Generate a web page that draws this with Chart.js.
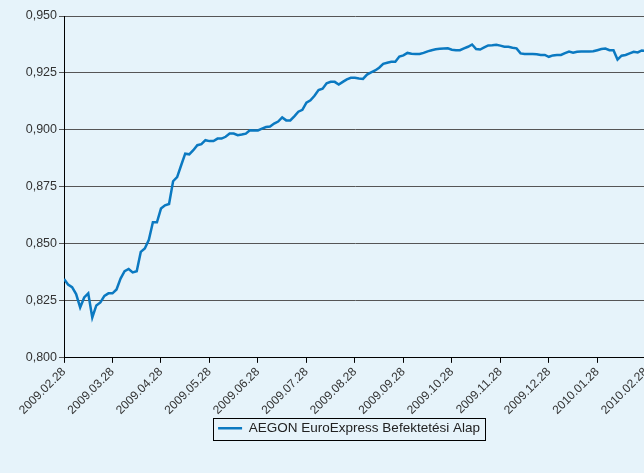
<!DOCTYPE html>
<html>
<head>
<meta charset="utf-8">
<script src="https://cdn.jsdelivr.net/npm/chart.js@4/dist/chart.umd.min.js"></script>
<style>
html, body { margin: 0; padding: 0; background: #e6f3fa; overflow: hidden; }
#wrap { position: relative; width: 658px; height: 473px; }
</style>
</head>
<body>
<div id="wrap"><canvas id="chart"></canvas></div>
<script>
// monthly tick labels on the x axis
var monthLabels = ['2009.02.28', '2009.03.28', '2009.04.28', '2009.05.28', '2009.06.28', '2009.07.28',
	'2009.08.28', '2009.09.28', '2009.10.28', '2009.11.28', '2009.12.28', '2010.01.28', '2010.02.28'];

var seriesName = 'AEGON EuroExpress Befektetési Alap';

// net asset value, sampled evenly across the year
var navValues = [
	0.8346, 0.8322, 0.8310, 0.8280, 0.8221, 0.8265, 0.8283, 0.8177, 0.8230, 0.8243,
	0.8272, 0.8283, 0.8283, 0.8300, 0.8348, 0.8380, 0.8390, 0.8375, 0.8380, 0.8465,
	0.8480, 0.8518, 0.8595, 0.8595, 0.8655, 0.8669, 0.8675, 0.8775, 0.8793, 0.8845,
	0.8896, 0.8893, 0.8911, 0.8933, 0.8938, 0.8955, 0.8951, 0.8951, 0.8962, 0.8962,
	0.8970, 0.8984, 0.8984, 0.8977, 0.8980, 0.8984, 0.8999, 0.8998, 0.8998, 0.9006,
	0.9013, 0.9015, 0.9028, 0.9037, 0.9055, 0.9042, 0.9042, 0.9060, 0.9080, 0.9088,
	0.9120, 0.9130, 0.9150, 0.9175, 0.9181, 0.9205, 0.9211, 0.9211, 0.9199, 0.9211,
	0.9222, 0.9229, 0.9229, 0.9226, 0.9224, 0.9243, 0.9253, 0.9261, 0.9273, 0.9290,
	0.9295, 0.9299, 0.9299, 0.9322, 0.9327, 0.9338, 0.9334, 0.9333, 0.9333, 0.9338,
	0.9345, 0.9350, 0.9354, 0.9356, 0.9357, 0.9358, 0.9352, 0.9350, 0.9350, 0.9358,
	0.9365, 0.9375, 0.9355, 0.9353, 0.9362, 0.9371, 0.9372, 0.9374, 0.9370, 0.9365,
	0.9365, 0.9361, 0.9358, 0.9336, 0.9333, 0.9333, 0.9333, 0.9332, 0.9329, 0.9329,
	0.9321, 0.9327, 0.9329, 0.9329, 0.9337, 0.9344, 0.9339, 0.9343, 0.9344, 0.9344,
	0.9344, 0.9345, 0.9350, 0.9355, 0.9357, 0.9350, 0.9350, 0.9309, 0.9326, 0.9329,
	0.9336, 0.9343, 0.9340, 0.9349, 0.9347
];

var yMin = 0.800;
var yMax = 0.950;
var yStep = 0.025;

var points = [];
for (var i = 0; i < navValues.length; i++) {
	points.push({ x: i * (monthLabels.length - 1) / (navValues.length - 1), y: navValues[i] });
}

// nudges the legend under the plot and draws the frame round it
// (hit boxes are rebuilt from legend.left/top by the legend plugin afterwards)
var legendFrame = {
	id: 'legendFrame',
	afterLayout: function (chart) {
		var lg = chart.legend;
		if (!lg) return;
		var dx = 20, dy = -12;
		lg.left += dx; lg.right += dx;
		lg.top += dy; lg.bottom += dy;
	},
	afterDraw: function (chart) {
		var lg = chart.legend;
		if (!lg || !lg.legendHitBoxes || !lg.legendHitBoxes.length) return;
		var hb = lg.legendHitBoxes[0];
		var ctx = chart.ctx;
		ctx.save();
		ctx.strokeStyle = '#000';
		ctx.lineWidth = 1;
		ctx.strokeRect(Math.round(hb.left - 5) + 0.5, Math.round(hb.top - 4) + 0.5,
			Math.round(hb.width + 10), Math.round(hb.height + 8));
		ctx.restore();
	}
};

Chart.defaults.font.family = '"Liberation Sans", Arial, sans-serif';
Chart.defaults.color = '#333';

new Chart(document.getElementById('chart'), {
	type: 'line',
	data: {
		datasets: [{
			label: seriesName,
			data: points,
			borderColor: '#0b79c1',
			backgroundColor: '#0b79c1',
			borderWidth: 2.5,
			pointRadius: 0,
			tension: 0,
			fill: false
		}]
	},
	options: {
		responsive: true,
		maintainAspectRatio: false,
		animation: false,
		layout: { padding: { top: 16, left: 0, right: 0, bottom: 16 } },
		plugins: {
			tooltip: { enabled: false },
			legend: {
				position: 'bottom',
				labels: {
					usePointStyle: true,
					pointStyle: 'line',
					pointStyleWidth: 24,
					boxWidth: 24,
					boxHeight: 2,
					color: '#222',
					font: { size: 13.5 },
					padding: 14
				}
			}
		},
		scales: {
			x: {
				type: 'linear',
				min: 0,
				max: monthLabels.length - 1,
				grid: { drawOnChartArea: false, drawTicks: true, tickLength: 5, color: '#000' },
				border: { display: true, color: '#000', width: 1 },
				ticks: {
					stepSize: 1,
					autoSkip: false,
					maxRotation: 45,
					minRotation: 45,
					padding: 2,
					color: '#333',
					font: { size: 12 },
					callback: function (v) { return monthLabels[v]; }
				}
			},
			y: {
				min: yMin,
				max: yMax,
				afterFit: function (s) { s.width = 64; },
				grid: { color: '#555', lineWidth: 1, drawTicks: true, tickLength: 5 },
				border: { display: true, color: '#000', width: 1 },
				ticks: {
					stepSize: yStep,
					padding: 2,
					color: '#333',
					font: { size: 12.5 },
					callback: function (v) { return (Math.round(v * 1000) / 1000).toFixed(3).replace('.', ','); }
				}
			}
		}
	},
	plugins: [legendFrame]
});
</script>
</body>
</html>
